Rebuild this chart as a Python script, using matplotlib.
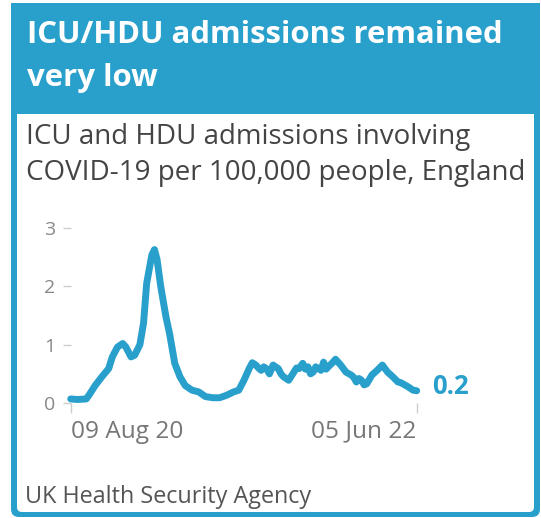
import numpy as np
import matplotlib
matplotlib.use('Agg')
import matplotlib.pyplot as plt
from matplotlib.patches import FancyBboxPatch, Rectangle

plt.rcParams['font.family'] = ['Open Sans', 'DejaVu Sans']

# ICU/HDU admissions per 100,000 (days since 09 Aug 2020)
days = [0, 13, 30, 37, 47, 60, 73, 80, 90, 100, 106, 116, 123, 133, 140, 146,
        156, 161, 166, 173, 183, 190, 200, 210, 220, 233, 246, 259, 273, 286,
        299, 313, 323, 333, 343, 349, 356, 361, 366, 371, 376, 382, 389, 394,
        399, 404, 409, 419, 429, 434, 439, 446, 451, 456, 461, 466, 471, 476,
        481, 486, 491, 495, 502, 509, 514, 519, 529, 539, 544, 549, 554, 559,
        564, 569, 579, 589, 599, 609, 619, 629, 634, 638, 648, 658, 665]
values = [0.07, 0.06, 0.07, 0.16, 0.30, 0.45, 0.59, 0.79, 0.96, 1.02, 0.96,
          0.79, 0.82, 1.00, 1.37, 2.05, 2.54, 2.63, 2.46, 2.00, 1.48, 1.19,
          0.68, 0.45, 0.30, 0.22, 0.19, 0.11, 0.09, 0.09, 0.13, 0.19, 0.22,
          0.39, 0.59, 0.69, 0.65, 0.60, 0.56, 0.62, 0.59, 0.50, 0.65, 0.62,
          0.59, 0.50, 0.45, 0.39, 0.53, 0.60, 0.59, 0.68, 0.58, 0.62, 0.50,
          0.53, 0.62, 0.59, 0.56, 0.70, 0.58, 0.62, 0.68, 0.75, 0.70, 0.65,
          0.53, 0.48, 0.44, 0.36, 0.42, 0.39, 0.31, 0.33, 0.48, 0.56, 0.65,
          0.53, 0.45, 0.36, 0.35, 0.33, 0.28, 0.22, 0.21]
xtick_pos = [0, 665]
xtick_labels = ['09 Aug 20', '05 Jun 22']
ytick_pos = [0, 1, 2, 3]

title_lines = ['ICU/HDU admissions remained', 'very low']
subtitle_lines = ['ICU and HDU admissions involving',
                  'COVID-19 per 100,000 people, England']
source = 'UK Health Security Agency'

BLUE = '#29a0cc'

fig = plt.figure(figsize=(5.41, 5.18), dpi=100)

# card background drawn in pixel coordinates
bg = fig.add_axes([0, 0, 1, 1])
bg.set_xlim(0, 541)
bg.set_ylim(518, 0)
bg.axis('off')
bg.add_patch(FancyBboxPatch((11 + 8, 3 + 8), 529 - 16, 514 - 16,
                            boxstyle='round,pad=8', fc=BLUE, ec='none'))
bg.add_patch(Rectangle((11, 3), 529, 120, fc=BLUE, ec='none'))
bg.add_patch(FancyBboxPatch((17 + 5, 114 + 5), 517 - 10, 398 - 10,
                            boxstyle='round,pad=5', fc='white', ec='none'))
bg.add_patch(Rectangle((17, 114), 517, 30, fc='white', ec='none'))

bg.text(27, 43, title_lines[0], color='white', fontsize=22.4, fontweight='bold',
        va='baseline')
bg.text(27, 86, title_lines[1], color='white', fontsize=22.4, fontweight='bold',
        va='baseline')
bg.text(26, 144, subtitle_lines[0], color='#444444', fontsize=20, va='baseline')
bg.text(26, 180, subtitle_lines[1], color='#444444', fontsize=20, va='baseline')
bg.text(25, 503, source, color='#555555', fontsize=16.8, va='baseline')

# the chart itself
ax = fig.add_axes([70.7 / 541, 1 - 403 / 518, 346 / 541, 175 / 518])
ax.patch.set_alpha(0)
ax.plot(days, values, color=BLUE, lw=5, solid_capstyle='round',
        solid_joinstyle='round', clip_on=False)
ax.set_xlim(0, 665)
ax.set_ylim(0, 3)
for s in ax.spines.values():
    s.set_visible(False)
ax.set_yticks(ytick_pos)
ax.set_yticklabels([str(v) for v in ytick_pos])
ax.set_xticks(xtick_pos)
ax.set_xticklabels(xtick_labels)
ax.tick_params(axis='y', length=6, width=1, color='#cccccc', pad=5,
               labelsize=14, labelcolor='#888888')
ax.tick_params(axis='x', length=7, width=1, color='#cccccc', pad=5,
               labelsize=17.6, labelcolor='#777777')
xl = ax.get_xticklabels()
xl[0].set_ha('left')
xl[1].set_ha('right')

ax.annotate(f'{values[-1]:.1f}', (days[-1], values[-1]), xytext=(11, 3),
            textcoords='offset points', color=BLUE, fontsize=18.5,
            fontweight='bold', va='center', ha='left', annotation_clip=False)

fig.savefig('out.png', dpi=100)
